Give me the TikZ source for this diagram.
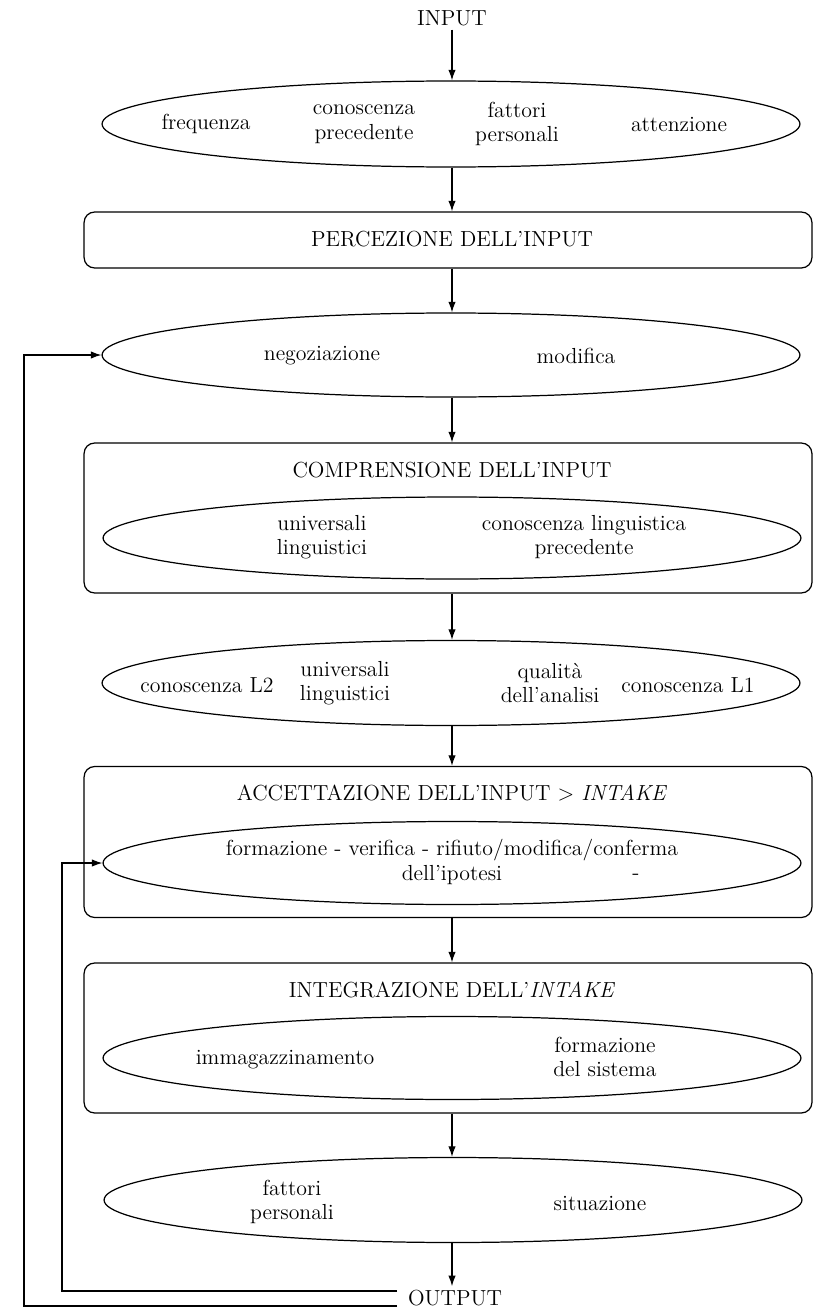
\documentclass[tikz,border=0pt]{standalone}
\usepackage{fontspec}
\usepackage{tikz}
\usetikzlibrary{shapes,arrows,arrows.meta,positioning}
\tikzstyle{oval} = [ellipse, draw, line width=0.7pt, inner sep=0pt, minimum width=13.96cm, minimum height=1.7cm]
\tikzstyle{stage} = [rectangle, draw, rounded corners=6pt, line width=0.7pt, inner sep=0pt, minimum width=14.56cm]
\tikzstyle{txt} = [align=center, inner sep=2pt]
\tikzstyle{line} = [draw, line width=0.7pt]
\tikzstyle{flow} = [draw, line width=0.7pt, -{Latex[length=6pt, width=4.2pt]}]

\begin{document}
\begin{tikzpicture}[x=0.02cm, y=-0.02cm, font=\fontsize{12.4}{14}\selectfont]
			\useasboundingbox (0,0) rectangle (814,1308);

			\node [txt] (input) at (452,18) {INPUT};

			\node [oval, minimum height=1.72cm] (freq) at (451,124) {};
			\node [txt] (f1) at (206,124) {frequenza};
			\node [txt] (f2) at (364,124) {conoscenza\\precedente};
			\node [txt] (f3) at (517,124) {fattori\\personali};
			\node [txt] (f4) at (679,124) {attenzione};

			\node [stage, minimum height=1.12cm] (perc) at (448,240) {};
			\node [txt] (perct) at (452,239) {PERCEZIONE DELL'INPUT};

			\node [oval, minimum height=1.68cm] (nego) at (451,355) {};
			\node [txt] (n1) at (322,356) {negoziazione};
			\node [txt] (n2) at (576,356) {modifica};

			\node [stage, minimum height=3cm] (comp) at (448,518) {};
			\node [txt] (compt) at (452,470) {COMPRENSIONE DELL'INPUT};
			\node [oval, minimum height=1.64cm] (univ) at (452,538) {};
			\node [txt] (u1) at (322,537) {universali\\linguistici};
			\node [txt] (u2) at (584,537) {conoscenza linguistica\\precedente};

			\node [oval, minimum height=1.7cm] (cono) at (451,683) {};
			\node [txt] (c1) at (207,685) {conoscenza L2};
			\node [txt] (c2) at (345,683) {universali\\linguistici};
			\node [txt] (c3) at (550,683) {qualità\\dell'analisi};
			\node [txt] (c4) at (688,685) {conoscenza L1};

			\node [stage, minimum height=3.02cm] (acc) at (448,842) {};
			\node [txt] (acct) at (452,793) {ACCETTAZIONE DELL'INPUT > \textit{INTAKE}};
			\node [oval, minimum height=1.66cm] (ipot) at (452,863) {};
			\node [txt] (i1) at (452,862) {formazione - verifica - rifiuto/modifica/conferma\\dell'ipotesi};
			\node [txt] (i2) at (636,877) {-};

			\node [stage, minimum height=3cm] (integ) at (448,1038) {};
			\node [txt] (integt) at (452,990) {INTEGRAZIONE DELL'\textit{INTAKE}};
			\node [oval, minimum height=1.66cm] (imma) at (452,1058) {};
			\node [txt] (m1) at (285,1060) {immagazzinamento};
			\node [txt] (m2) at (605,1057) {formazione\\del sistema};

			\node [oval, minimum height=1.7cm] (pers) at (453,1200) {};
			\node [txt] (p1) at (292,1202) {fattori\\personali};
			\node [txt] (p2) at (600,1203) {situazione};

			\node [txt] (output) at (455,1298) {OUTPUT};

			\coordinate (inend) at (397,1291);
			\coordinate (incorner) at (62,1291);
			\coordinate (outend) at (397,1306);
			\coordinate (outcorner) at (24,1306);

			\path [flow] (input) -- (input |- freq.north);
			\path [flow] (freq.south -| input) -- (input |- perc.north);
			\path [flow] (perc.south -| input) -- (input |- nego.north);
			\path [flow] (nego.south -| input) -- (input |- comp.north);
			\path [flow] (comp.south -| input) -- (input |- cono.north);
			\path [flow] (cono.south -| input) -- (input |- acc.north);
			\path [flow] (acc.south -| input) -- (input |- integ.north);
			\path [flow] (integ.south -| input) -- (input |- pers.north);
			\path [flow] (pers.south -| input) -- (input |- output.north);

			\path [flow] (inend) -- (incorner) |- (ipot.west);
			\path [flow] (outend) -- (outcorner) |- (nego.west);
		\end{tikzpicture}
\end{document}
